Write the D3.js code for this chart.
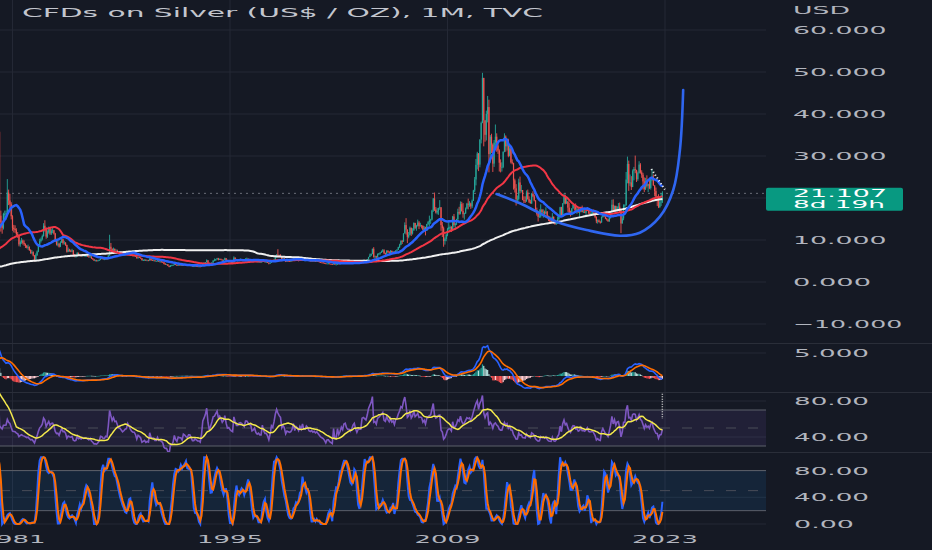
<!DOCTYPE html>
<html><head><meta charset="utf-8">
<script src="https://cdn.jsdelivr.net/npm/d3@7/dist/d3.min.js"></script>
<style>html,body{margin:0;padding:0;background:#151924;overflow:hidden}</style>
</head><body><svg id="c" width="932" height="550"></svg>
<script>
// ---------------- DATA ----------------
const title = "CFDs on Silver (US$ / OZ), 1M, TVC";
const currency = "USD";
const warmupStartYear = 1963; // monthly closes used only to seed the moving averages / oscillators
const warmupCloses = [
 1.27,1.28,1.28,1.28,1.29,1.29,1.29,1.29,1.29,1.29,1.29,1.29,
 1.29,1.29,1.29,1.29,1.29,1.29,1.29,1.29,1.29,1.29,1.29,1.29,
 1.29,1.29,1.29,1.29,1.29,1.29,1.29,1.29,1.29,1.29,1.29,1.29,
 1.29,1.29,1.29,1.29,1.29,1.29,1.29,1.29,1.29,1.29,1.29,1.29,
 1.29,1.29,1.29,1.29,1.29,1.40,1.87,1.85,1.75,1.80,2.05,2.10,
 2.15,2.10,2.25,2.40,2.45,2.50,2.30,2.20,2.25,2.00,1.95,1.97,
 2.00,1.85,1.80,1.75,1.70,1.65,1.70,1.85,1.90,1.88,1.85,1.80,
 1.85,1.82,1.90,1.85,1.70,1.68,1.70,1.80,1.75,1.75,1.70,1.64,
 1.60,1.45,1.45,1.60,1.58,1.58,1.55,1.50,1.35,1.33,1.35,1.38,
 1.50,1.60,1.60,1.58,1.68,1.70,1.75,1.85,1.75,1.85,1.90,2.05,
 2.10,2.40,2.35,2.20,2.45,2.65,2.80,2.70,2.60,2.75,2.75,3.25,
 4.10,6.20,5.50,5.35,5.00,4.70,4.80,4.45,4.85,4.70,4.90,4.40,
 4.45,5.00,4.30,4.40,4.70,4.60,4.85,4.90,4.40,4.30,4.20,4.20,
 4.15,4.08,3.85,4.25,4.70,4.90,4.60,4.32,4.30,4.35,4.38,4.37,
 4.40,4.52,4.70,4.85,4.60,4.42,4.50,4.40,4.55,4.80,4.85,4.85,
 4.95,5.05,5.35,5.05,5.20,5.35,5.40,5.55,5.70,6.05,5.90,5.95,
 6.55,7.60,7.50,7.80,8.35,8.70,9.10,9.90,16.50,16.90,19.00,28.00
];
const candleStartYear = 1980; // monthly candles Jan 1980 .. Nov 2022
const closes = [
 34.5,35.7,15.8,14.2,12.9,16.2,16.2,16.4,21.3,19.4,18.5,15.65,
 12.9,12.65,12.35,11.4,11.05,8.95,9.5,9.85,9.3,9.0,8.6,8.2,
 8.3,7.6,6.95,7.1,6.3,5.35,6.4,7.25,8.6,9.75,10.2,10.95,
 13.4,12.85,10.8,11.8,12.75,11.55,12.2,12.3,11.55,9.8,9.0,9.1,
 8.4,9.4,10.15,9.3,9.35,8.8,7.2,7.7,7.45,7.35,7.5,6.35,
 6.15,6.25,6.95,6.3,6.4,6.15,6.35,6.2,6.25,6.25,6.1,5.9,
 6.05,5.6,5.4,5.1,5.1,5.05,5.15,5.3,5.65,5.6,5.4,5.4,
 5.55,5.5,6.3,8.4,7.9,7.4,7.85,7.45,7.5,7.1,6.75,6.7,
 6.5,6.3,6.4,6.55,6.6,7.1,6.9,6.6,6.4,6.3,6.3,6.1,
 5.65,5.9,5.8,5.65,5.2,5.25,5.3,5.1,5.15,5.1,5.6,5.2,
 5.15,5.15,4.95,4.95,5.1,4.85,4.85,4.8,4.7,4.3,4.2,4.2,
 3.85,3.6,3.95,3.95,4.05,4.35,4.05,3.9,4.1,4.05,4.05,3.9,
 4.15,4.1,4.0,3.95,4.05,4.05,3.9,3.75,3.75,3.8,3.75,3.7,
 3.7,3.65,3.85,4.35,4.5,4.7,5.15,4.55,4.1,4.35,4.65,5.1,
 5.15,5.4,5.65,5.3,5.45,5.3,5.1,5.25,5.65,5.2,4.85,4.9,
 4.75,4.65,4.6,5.8,5.45,5.15,5.15,5.35,5.4,5.35,5.25,5.15,
 5.55,5.55,5.45,5.35,5.35,5.0,5.05,5.15,4.9,4.8,4.85,4.75,
 4.75,5.2,4.9,4.75,4.75,4.6,4.35,4.6,5.05,4.95,5.3,5.95,
 6.5,6.3,6.15,6.05,5.35,5.55,5.35,4.85,5.05,5.0,4.95,5.0,
 5.15,5.55,5.05,5.35,5.25,5.05,5.35,5.15,5.55,5.15,5.15,5.4,
 5.3,5.05,5.0,5.05,4.95,5.0,4.9,4.95,4.85,4.75,4.65,4.6,
 4.55,4.45,4.3,4.4,4.4,4.3,4.25,4.2,4.7,4.15,4.15,4.6,
 4.25,4.4,4.65,4.5,4.85,4.9,4.65,4.55,4.55,4.45,4.55,4.75,
 4.85,4.6,4.4,4.55,4.55,4.55,5.15,5.2,5.15,5.1,5.4,5.95,
 6.3,6.7,7.9,6.0,6.1,5.85,6.65,6.8,7.05,7.25,7.55,6.85,
 6.75,7.45,7.15,6.95,7.4,7.05,7.2,6.85,7.5,7.7,8.3,8.85,
 9.75,9.65,11.55,13.55,12.5,10.75,11.2,12.9,11.55,12.25,14.05,12.9,
 13.4,14.15,13.3,13.45,13.35,12.45,12.95,12.2,13.8,14.25,14.65,14.85,
 17.0,19.85,17.25,16.55,16.9,17.6,17.8,13.55,12.8,9.75,10.25,11.3,
 12.6,13.05,13.1,12.4,15.6,13.55,13.95,14.95,16.7,16.3,18.55,16.9,
 16.15,16.35,17.5,18.65,18.4,18.7,18.0,19.35,21.8,24.4,27.9,30.6,
 27.95,33.9,37.9,48.6,38.5,35.05,40.0,41.65,30.45,34.6,32.7,28.2,
 33.2,34.6,32.5,31.3,28.4,27.4,27.4,31.0,34.6,32.3,33.8,30.0,
 31.8,28.5,28.3,24.2,22.3,19.7,19.8,23.7,21.7,21.9,19.5,19.4,
 19.2,21.3,19.75,19.1,18.7,21.0,20.4,19.4,17.1,16.2,15.5,15.6,
 17.2,16.6,16.6,16.3,16.75,15.6,14.75,14.55,14.5,15.55,14.1,13.8,
 14.1,14.95,15.45,17.8,15.95,18.7,20.3,18.7,19.2,17.7,16.5,15.95,
 17.5,18.35,18.25,17.3,17.35,16.55,16.75,17.6,16.65,16.7,16.5,16.9,
 17.3,16.45,16.3,16.35,16.45,16.05,15.5,14.45,14.65,14.3,14.2,15.5,
 16.05,15.6,15.1,14.9,14.5,15.3,16.35,18.4,17.0,18.1,16.95,17.85,
 17.95,16.6,13.95,15.15,18.25,18.25,24.4,28.1,23.5,23.7,22.6,26.4,
 26.9,26.7,24.5,25.95,27.95,26.1,25.55,23.95,22.1,24.0,22.9,23.3,
 22.4,24.35,25.1,23.0,21.65,20.35,20.3,17.85,19.0,19.15,21.107
];
const highs = [
 49.5,38.0,36.0,17.0,14.6,16.5,17.0,17.0,24.5,22.0,21.0,19.0,
 15.9,13.6,13.5,12.8,11.9,11.2,9.9,10.5,10.1,9.9,9.2,8.8,
 8.9,8.5,7.8,7.6,7.3,6.4,6.8,7.5,9.0,10.3,10.6,11.3,
 14.0,14.7,13.0,12.3,13.2,12.9,12.6,12.9,12.4,11.7,10.0,9.9,
 9.3,9.7,10.5,10.3,9.8,9.5,8.9,8.2,7.9,7.7,7.9,7.6,
 6.6,6.4,7.1,7.0,6.7,6.5,6.5,6.5,6.4,6.4,6.3,6.2,
 6.3,6.1,5.7,5.5,5.3,5.3,5.2,5.4,5.9,5.8,5.7,5.5,
 5.6,5.7,6.4,11.25,9.3,8.0,8.2,8.0,7.8,7.7,7.2,7.1,
 6.9,6.6,6.5,6.7,6.8,7.4,7.3,6.9,6.7,6.5,6.4,6.4,
 6.1,6.0,6.0,5.9,5.7,5.4,5.4,5.4,5.3,5.3,5.7,5.8,
 5.4,5.4,5.2,5.1,5.2,5.1,5.0,5.2,4.9,4.8,4.5,4.3,
 4.25,3.9,4.0,4.1,4.15,4.5,4.4,4.1,4.2,4.2,4.1,4.1,
 4.2,4.2,4.15,4.05,4.1,4.15,4.1,3.95,3.85,3.85,3.85,3.8,
 3.75,3.75,3.9,4.45,4.7,4.75,5.4,5.2,4.6,4.4,4.7,5.2,
 5.6,5.5,5.75,5.75,5.6,5.6,5.4,5.35,5.8,5.7,5.3,4.95,
 4.95,4.8,4.8,6.1,5.85,5.5,5.3,5.45,5.6,5.45,5.45,5.35,
 5.65,5.8,5.6,5.5,5.45,5.35,5.15,5.25,5.2,4.95,4.95,4.9,
 4.85,5.3,5.25,4.9,4.9,4.8,4.65,4.7,5.1,5.15,5.4,6.3,
 6.6,7.81,6.5,6.6,6.0,5.75,5.8,5.4,5.5,5.3,5.2,5.1,
 5.25,5.65,5.6,5.4,5.4,5.25,5.4,5.35,5.8,5.7,5.25,5.45,
 5.45,5.5,5.15,5.2,5.05,5.1,5.05,5.0,5.0,4.9,4.8,4.65,
 4.8,4.6,4.5,4.4,4.55,4.45,4.35,4.35,4.85,4.7,4.25,4.6,
 4.65,4.45,4.7,4.65,5.0,5.1,5.1,4.7,4.65,4.55,4.6,4.8,
 4.95,4.9,4.65,4.6,4.85,4.65,5.2,5.35,5.35,5.2,5.45,6.0,
 6.75,6.8,7.95,8.3,6.3,6.25,6.8,6.9,7.05,7.5,7.85,7.8,
 7.0,7.55,7.55,7.35,7.6,7.5,7.35,7.3,7.55,7.8,8.4,9.1,
 9.95,10.0,11.6,14.2,15.2,12.5,11.9,13.2,12.95,12.8,14.2,14.1,
 13.6,14.85,14.5,14.1,13.6,13.5,13.3,13.15,13.85,14.5,15.8,15.05,
 17.2,20.0,21.3,17.85,17.6,17.7,19.5,17.8,14.3,13.2,10.6,11.5,
 12.9,14.7,13.45,13.3,15.75,16.2,14.0,15.05,17.45,17.9,19.2,19.1,
 18.8,16.5,17.75,18.85,19.85,19.25,18.9,19.65,21.95,25.0,29.3,31.0,
 30.7,34.0,38.2,49.8,48.6,38.2,40.8,44.3,43.4,35.0,35.3,33.0,
 33.8,37.5,35.4,33.1,31.6,29.2,28.5,31.1,35.4,34.9,34.2,34.1,
 32.4,32.1,29.2,28.4,24.6,23.3,20.6,24.6,25.1,23.1,21.9,20.4,
 20.4,21.8,22.0,20.4,19.6,21.2,21.6,20.8,19.5,17.7,16.7,17.3,
 18.5,17.4,17.3,17.0,17.8,16.9,15.8,15.7,15.4,16.4,15.6,14.4,
 14.5,15.6,16.1,17.9,17.9,18.8,21.1,20.8,20.0,19.2,18.9,17.0,
 17.6,18.5,18.4,18.7,17.7,17.8,17.0,17.9,18.2,17.5,17.3,17.1,
 17.7,17.4,16.8,17.3,16.7,17.3,16.1,15.6,14.9,14.9,14.6,15.6,
 16.2,16.2,15.6,15.3,14.9,15.5,16.6,19.6,19.7,18.2,18.2,18.1,
 18.8,18.9,17.3,15.7,18.5,18.5,26.2,29.85,28.9,25.6,25.2,26.8,
 27.4,30.1,26.6,26.3,28.75,28.3,26.6,26.0,24.9,24.8,25.4,23.4,
 24.7,24.7,26.9,25.6,22.6,22.5,20.5,20.9,19.6,21.2,21.6
];
const lows = [
 27.0,30.0,10.4,12.0,11.5,12.5,15.0,14.8,16.0,18.3,17.5,14.9,
 12.2,11.8,11.7,10.9,10.5,8.5,8.4,9.1,8.9,8.6,8.1,8.0,
 7.7,7.4,6.7,6.6,6.1,4.9,5.3,6.2,7.1,8.3,9.4,9.9,
 10.8,12.0,10.3,10.5,11.5,11.2,11.2,11.6,11.3,9.6,8.7,8.5,
 8.2,8.3,9.3,8.9,8.9,8.6,7.0,7.1,7.2,7.1,7.1,6.2,
 5.9,5.8,6.1,6.2,6.2,6.0,6.0,6.1,6.0,6.0,6.0,5.8,
 5.8,5.5,5.3,5.0,5.0,4.95,4.9,5.0,5.2,5.5,5.3,5.3,
 5.35,5.4,5.45,6.3,7.6,7.1,7.2,7.3,7.4,6.9,6.6,6.5,
 6.4,6.2,6.2,6.3,6.4,6.5,6.8,6.5,6.3,6.1,6.1,6.0,
 5.6,5.6,5.7,5.5,5.1,5.0,5.1,5.0,5.05,5.0,5.05,5.1,
 5.0,5.1,4.9,4.9,4.9,4.8,4.7,4.7,4.6,4.2,4.1,4.1,
 3.8,3.5,3.55,3.85,3.9,4.0,4.0,3.85,3.85,4.0,4.0,3.8,
 3.85,4.0,3.95,3.9,3.9,4.0,3.85,3.7,3.65,3.7,3.7,3.65,
 3.6,3.55,3.6,3.8,4.2,4.4,4.65,4.4,4.0,4.1,4.3,4.6,
 5.0,5.05,5.35,5.15,5.25,5.2,5.1,5.05,5.2,5.15,4.8,4.7,
 4.6,4.5,4.4,4.55,5.3,5.1,4.9,5.1,5.3,5.25,5.15,5.1,
 5.1,5.45,5.4,5.3,5.2,5.0,4.95,5.0,4.85,4.7,4.7,4.65,
 4.65,4.7,4.85,4.65,4.65,4.55,4.2,4.35,4.55,4.75,4.9,5.05,
 5.85,5.9,5.9,5.9,5.3,5.0,5.25,4.75,4.85,4.9,4.85,4.85,
 4.95,5.1,5.0,5.0,5.2,4.9,5.0,5.1,5.1,5.1,5.05,5.05,
 5.1,5.05,4.95,4.95,4.9,4.9,4.85,4.85,4.8,4.7,4.55,4.5,
 4.45,4.4,4.25,4.25,4.3,4.25,4.2,4.1,4.15,4.1,4.05,4.1,
 4.2,4.2,4.35,4.45,4.5,4.8,4.6,4.5,4.45,4.4,4.45,4.5,
 4.75,4.55,4.35,4.35,4.5,4.45,4.5,4.95,5.0,4.9,5.05,5.35,
 5.9,6.15,6.6,5.8,5.5,5.6,5.85,6.4,6.5,6.9,7.1,6.6,
 6.4,6.65,6.95,6.85,7.0,6.95,6.85,6.8,6.8,7.4,7.6,8.1,
 8.75,9.05,9.55,11.6,11.3,9.25,10.4,11.1,10.95,11.3,12.3,12.6,
 12.2,13.2,12.6,13.2,12.75,12.4,12.5,11.1,12.15,13.5,13.3,13.85,
 14.65,16.7,16.9,16.3,16.1,16.0,17.2,12.2,10.7,8.4,8.9,9.7,
 10.9,12.4,12.1,11.9,12.3,13.15,12.5,13.55,14.65,16.0,16.1,16.75,
 15.3,14.85,16.2,17.3,17.3,17.9,17.4,17.6,19.3,21.4,23.0,26.8,
 26.4,27.3,33.0,37.8,32.3,33.4,33.7,38.0,26.1,28.4,30.7,26.2,
 27.4,32.6,31.0,30.5,26.3,26.1,26.3,27.1,30.9,31.0,31.3,29.7,
 29.9,28.2,28.0,22.0,21.3,18.2,18.7,19.4,21.1,21.3,19.5,18.8,
 18.8,19.1,19.6,18.8,18.7,18.6,20.2,19.2,16.9,15.8,14.4,15.3,
 15.3,16.0,15.3,15.7,16.1,15.5,14.5,13.9,14.0,14.5,13.9,13.6,
 13.6,13.8,14.8,15.3,15.8,15.9,18.5,18.5,18.6,16.7,16.4,15.6,
 15.9,17.5,17.0,16.9,16.2,16.5,15.2,16.6,16.6,16.5,16.4,15.6,
 16.9,16.2,16.1,16.2,16.2,16.0,15.2,14.0,13.9,14.2,13.9,14.1,
 15.3,15.5,14.95,14.6,14.3,14.3,15.1,16.2,16.9,16.7,16.6,16.6,
 17.4,16.5,11.64,13.9,14.7,17.1,18.2,23.5,21.7,22.9,21.9,22.6,
 24.2,25.9,23.8,24.1,25.8,25.8,24.8,22.0,21.4,21.9,22.5,21.4,
 22.1,22.0,24.0,22.9,20.4,20.2,18.1,17.6,17.6,18.1,18.8
];
const priceGridTicks = [60,50,40,30,20,10,0,-10];
const priceLabelTicks = [60,50,40,30,10,0,-10];
const macdTicks = [5];
const rsiTicks = [80,40];
const stochTicks = [80,40,0];
const yearTicks = [1981,1995,2009,2023];
const lastPrice = 21.107;
const countdown = "8d 19h";
// hand-drawn "cup" arc (year, price)
const cupPoints = [[2012.16,20.95],[2013.66,18.74],[2014.95,16.36],[2016.02,14.36],[2017.95,12.38],
  [2020.10,11.02],[2021.38,11.74],[2022.67,15.55],[2023.53,21.9],[2023.96,31.43],[2024.17,45.7]];
// small dotted projection line (year, price)
const projPoints = [[2022.12,26.9],[2022.99,22.0]];
// dotted marker in RSI pane (year, rsi from..to)
const rsiMarker = [2022.83, 88, 60];

// ---------------- CHART ----------------
const W = 932, H = 550, PLOT_R = 766;
const BG = "#151924", GRID = "#242835", SEP = "#2a2e39", TXT = "#b2b5be";
const svg = d3.select("#c");
svg.append("rect").attr("width", W).attr("height", H).attr("fill", BG);
const defs = svg.append("defs");
const panes = { main:[0,343], macd:[344,392], rsi:[393,452], sto:[453,530] };
Object.entries(panes).forEach(([k,[a,b]]) => {
  defs.append("clipPath").attr("id","clip-"+k).append("rect")
    .attr("x",0).attr("y",a).attr("width",PLOT_R).attr("height",b-a);
});

const x = d3.scaleLinear().domain([1995, 2023]).range([230, 665]);
const yMain = d3.scaleLinear().domain([0, 10]).range([282, 240]);
const yMacd = d3.scaleLinear().domain([0, 5]).range([376, 353]);
const yRsi  = d3.scaleLinear().domain([40, 80]).range([437, 401]);
const ySto  = d3.scaleLinear().domain([0, 80]).range([524, 470.6]);

// ---- indicator computation ----
const all = warmupCloses.concat(closes);
const off = warmupCloses.length;
const tAt = j => warmupStartYear + j / 12;
function sma(src, n) { const o = Array(src.length).fill(null);
  for (let i = 0; i < src.length; i++) { if (i < n - 1) continue; let s = 0, ok = true;
    for (let k = i - n + 1; k <= i; k++) { if (src[k] == null) { ok = false; break; } s += src[k]; }
    if (ok) o[i] = s / n; } return o; }
function ema(src, n) { const o = Array(src.length).fill(null); const a = 2 / (n + 1); let prev = null, cnt = 0, s = 0;
  for (let i = 0; i < src.length; i++) { const v = src[i]; if (v == null) continue;
    if (prev == null) { s += v; cnt++; if (cnt === n) { prev = s / n; o[i] = prev; } }
    else { prev = a * v + (1 - a) * prev; o[i] = prev; } } return o; }
function rsi(src, n) { const o = Array(src.length).fill(null); let ag = 0, al = 0;
  const val = () => (ag + al === 0 ? 50 : (al === 0 ? 100 : 100 - 100 / (1 + ag / al)));
  for (let i = 1; i < src.length; i++) { const ch = src[i] - src[i-1]; const g = Math.max(ch,0), l = Math.max(-ch,0);
    if (i <= n) { ag += g; al += l; if (i === n) { ag /= n; al /= n; o[i] = val(); } }
    else { ag = (ag*(n-1)+g)/n; al = (al*(n-1)+l)/n; o[i] = val(); } } return o; }
function stoch(src, n) { const o = Array(src.length).fill(null);
  for (let i = n - 1; i < src.length; i++) { const w = src.slice(i-n+1, i+1); if (w.some(v => v == null)) continue;
    const lo = d3.min(w), hi = d3.max(w); o[i] = hi - lo === 0 ? 50 : 100 * (src[i] - lo) / (hi - lo); } return o; }

const sma20 = sma(all, 20), sma50 = sma(all, 50), sma200 = sma(all, 200);
const e12 = ema(all, 12), e26 = ema(all, 26);
const macd = all.map((_, i) => (e12[i] != null && e26[i] != null) ? e12[i] - e26[i] : null);
const sig = ema(macd, 9);
const hist = macd.map((m, i) => (m != null && sig[i] != null) ? m - sig[i] : null);
const r = rsi(all, 14), rma = sma(r, 14);
const k = sma(stoch(r, 14), 3), dd = sma(k, 3);

const fromJ = off - 24; // start drawing indicators a bit before the visible range
function series(arr) { const out = []; for (let j = fromJ; j < all.length; j++) out.push({ t: tAt(j), v: arr[j] }); return out; }

// ---- grid ----
const grid = svg.append("g");
yearTicks.forEach(yr => grid.append("line").attr("x1", x(yr)).attr("x2", x(yr)).attr("y1", 0).attr("y2", 530)
  .attr("stroke", GRID).attr("stroke-width", 1));
priceGridTicks.forEach(v => grid.append("line").attr("x1", 0).attr("x2", PLOT_R).attr("y1", yMain(v)).attr("y2", yMain(v))
  .attr("stroke", GRID));
macdTicks.forEach(v => grid.append("line").attr("x1", 0).attr("x2", PLOT_R).attr("y1", yMacd(v)).attr("y2", yMacd(v)).attr("stroke", GRID));
rsiTicks.forEach(v => grid.append("line").attr("x1", 0).attr("x2", PLOT_R).attr("y1", yRsi(v)).attr("y2", yRsi(v)).attr("stroke", GRID));
stochTicks.forEach(v => grid.append("line").attr("x1", 0).attr("x2", PLOT_R).attr("y1", ySto(v)).attr("y2", ySto(v)).attr("stroke", GRID));
// pane separators
[343.5, 392.5, 452.5].forEach(yy => svg.append("line").attr("x1", 0).attr("x2", W).attr("y1", yy).attr("y2", yy)
  .attr("stroke", SEP).attr("stroke-width", 1.2));

// ---- main pane ----
const gMain = svg.append("g").attr("clip-path", "url(#clip-main)");
gMain.append("line").attr("x1", 0).attr("x2", PLOT_R).attr("y1", yMain(lastPrice)).attr("y2", yMain(lastPrice))
  .attr("stroke", "#6a6d78").attr("stroke-dasharray", "2,4").attr("stroke-width", 1);

const candles = closes.map((c, i) => {
  const o = i === 0 ? warmupCloses[warmupCloses.length - 1] : closes[i - 1];
  return { t: candleStartYear + i / 12, o, c, h: Math.max(highs[i], o, c), l: Math.min(lows[i], o, c) };
});
const UP = "#26a69a", DN = "#ef5350";
const gC = gMain.append("g");
gC.selectAll("line.w").data(candles).join("line").attr("class", "w")
  .attr("x1", d => x(d.t)).attr("x2", d => x(d.t)).attr("y1", d => yMain(d.h)).attr("y2", d => yMain(d.l))
  .attr("stroke", d => d.c >= d.o ? UP : DN).attr("stroke-width", 0.9);
gC.selectAll("rect").data(candles).join("rect")
  .attr("x", d => x(d.t) - 0.6).attr("width", 1.2)
  .attr("y", d => yMain(Math.max(d.o, d.c))).attr("height", d => Math.max(0.8, Math.abs(yMain(d.o) - yMain(d.c))))
  .attr("fill", d => d.c >= d.o ? UP : DN);

const lineMain = d3.line().defined(d => d.v != null).x(d => x(d.t)).y(d => yMain(d.v));
gMain.append("path").datum(series(sma200)).attr("d", lineMain).attr("fill", "none").attr("stroke", "#f0f0f0").attr("stroke-width", 2);
gMain.append("path").datum(series(sma50)).attr("d", lineMain).attr("fill", "none").attr("stroke", "#f23645").attr("stroke-width", 2);
gMain.append("path").datum(series(sma20)).attr("d", lineMain).attr("fill", "none").attr("stroke", "#2962ff").attr("stroke-width", 2.5);

const gDraw = svg.append("g").attr("clip-path", "url(#clip-main)");
gDraw.append("path").datum(cupPoints).attr("d", d3.line().x(d => x(d[0])).y(d => yMain(d[1])).curve(d3.curveCatmullRom.alpha(0.5)))
  .attr("fill", "none").attr("stroke", "#2f66f0").attr("stroke-width", 2.6).attr("stroke-linecap", "round");
gDraw.append("path").datum(projPoints).attr("d", d3.line().x(d => x(d[0])).y(d => yMain(d[1])))
  .attr("fill", "none").attr("stroke", "#e8e8e8").attr("stroke-width", 2).attr("stroke-dasharray", "1.2,2.2");

// ---- MACD pane ----
const gM = svg.append("g").attr("clip-path", "url(#clip-macd)");
const hData = []; for (let j = fromJ; j < all.length; j++) if (hist[j] != null) hData.push({ t: tAt(j), v: hist[j], p: hist[j-1] });
gM.selectAll("rect").data(hData).join("rect")
  .attr("x", d => x(d.t) - 0.6).attr("width", 1.2)
  .attr("y", d => Math.min(yMacd(0), yMacd(d.v))).attr("height", d => Math.max(0.6, Math.abs(yMacd(d.v) - yMacd(0))))
  .attr("fill", d => d.v >= 0 ? (d.v > d.p ? "#26a69a" : "#b2dfdb") : (d.v < d.p ? "#ff5252" : "#ffcdd2"));
const lineMacd = d3.line().defined(d => d.v != null).x(d => x(d.t)).y(d => yMacd(d.v));
gM.append("path").datum(series(macd)).attr("d", lineMacd).attr("fill", "none").attr("stroke", "#2962ff").attr("stroke-width", 1.6);
gM.append("path").datum(series(sig)).attr("d", lineMacd).attr("fill", "none").attr("stroke", "#ff6d00").attr("stroke-width", 1.6);

// ---- RSI pane ----
const gR = svg.append("g").attr("clip-path", "url(#clip-rsi)");
gR.append("rect").attr("x", 0).attr("width", PLOT_R).attr("y", yRsi(70)).attr("height", yRsi(30) - yRsi(70)).attr("fill", "rgba(126,87,194,0.12)");
gR.append("line").attr("x1", 0).attr("x2", PLOT_R).attr("y1", yRsi(70)).attr("y2", yRsi(70)).attr("stroke", "#5d606b");
gR.append("line").attr("x1", 0).attr("x2", PLOT_R).attr("y1", yRsi(30)).attr("y2", yRsi(30)).attr("stroke", "#5d606b");
gR.append("line").attr("x1", 0).attr("x2", PLOT_R).attr("y1", yRsi(50)).attr("y2", yRsi(50)).attr("stroke", "#4a4d58").attr("stroke-dasharray", "10,12");
const lineRsi = d3.line().defined(d => d.v != null).x(d => x(d.t)).y(d => yRsi(d.v));
gR.append("path").datum(series(r)).attr("d", lineRsi).attr("fill", "none").attr("stroke", "#7e57c2").attr("stroke-width", 1.6);
gR.append("path").datum(series(rma)).attr("d", lineRsi).attr("fill", "none").attr("stroke", "#f4e94c").attr("stroke-width", 1.5);
gR.append("line").attr("x1", x(rsiMarker[0])).attr("x2", x(rsiMarker[0])).attr("y1", yRsi(rsiMarker[1])).attr("y2", yRsi(rsiMarker[2]))
  .attr("stroke", "#d0d0d0").attr("stroke-width", 1.5).attr("stroke-dasharray", "1,1.5");

// ---- Stoch RSI pane ----
const gS = svg.append("g").attr("clip-path", "url(#clip-sto)");
gS.append("rect").attr("x", 0).attr("width", PLOT_R).attr("y", ySto(80)).attr("height", ySto(20) - ySto(80)).attr("fill", "rgba(33,150,243,0.10)");
gS.append("line").attr("x1", 0).attr("x2", PLOT_R).attr("y1", ySto(80)).attr("y2", ySto(80)).attr("stroke", "#5d606b");
gS.append("line").attr("x1", 0).attr("x2", PLOT_R).attr("y1", ySto(20)).attr("y2", ySto(20)).attr("stroke", "#5d606b");
gS.append("line").attr("x1", 0).attr("x2", PLOT_R).attr("y1", ySto(50)).attr("y2", ySto(50)).attr("stroke", "#4a4d58").attr("stroke-dasharray", "10,12");
const lineSto = d3.line().defined(d => d.v != null).x(d => x(d.t)).y(d => ySto(d.v));
gS.append("path").datum(series(k)).attr("d", lineSto).attr("fill", "none").attr("stroke", "#2962ff").attr("stroke-width", 2);
gS.append("path").datum(series(dd)).attr("d", lineSto).attr("fill", "none").attr("stroke", "#ff6d00").attr("stroke-width", 2);

// ---- text ----
function label(px, py, txt, len, size, color, weight) {
  svg.append("text").attr("x", px).attr("y", py).attr("textLength", len).attr("lengthAdjust", "spacingAndGlyphs")
    .attr("font-family", "DejaVu Sans, sans-serif").attr("font-size", size).attr("font-weight", weight || "normal")
    .attr("fill", color).text(txt);
}
const fmt3 = d3.format(".3f"), fmt2 = d3.format(".2f");
label(22, 17, title, 521, 13, "#c3c6ce");
label(793, 14, currency, 57, 11, TXT);
priceLabelTicks.forEach(v => { const s = fmt3(v); label(793, yMain(v) + 4, s, s.length * 15.6, 11, TXT); });
macdTicks.forEach(v => { const s = fmt3(v); label(794, yMacd(v) + 4, s, 75, 11, TXT); });
rsiTicks.forEach(v => { const s = fmt2(v); label(794, yRsi(v) + 4, s, 75, 11, TXT); });
stochTicks.forEach(v => { const s = fmt2(v); label(794, ySto(v) + 4, s, s.length * 15.0, 11, TXT); });
yearTicks.forEach(yr => label(x(yr) - 33, 543, String(yr), 66, 10.5, TXT));
// last price tag
svg.append("rect").attr("x", 766).attr("y", yMain(lastPrice) - 5.5).attr("width", 137).attr("height", 23).attr("rx", 2).attr("fill", "#089981");
label(793, yMain(lastPrice) + 3.8, fmt3(lastPrice), 94, 10.5, "#ffffff");
label(793, yMain(lastPrice) + 14.8, countdown, 92, 10.5, "#ffffff");
</script></body></html>
